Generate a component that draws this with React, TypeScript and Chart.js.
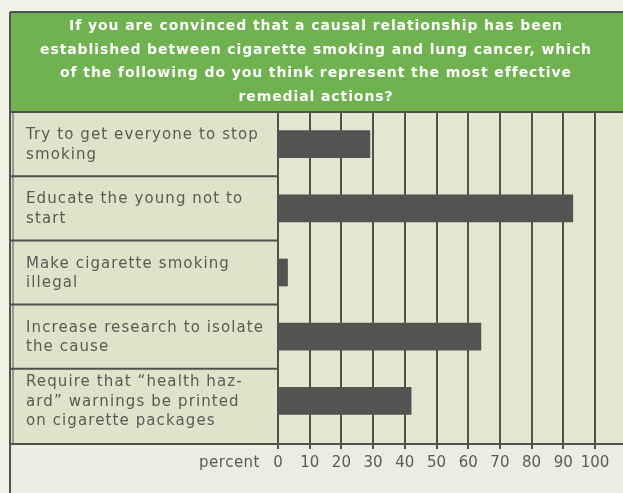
import { useEffect, useRef } from "react";
import { Chart, registerables } from "chart.js";
Chart.register(...registerables);

const titleLines = [
  "If you are convinced that a causal relationship has been",
  "established between cigarette smoking and lung cancer, which",
  "of the following do you think represent the most effective",
  "remedial actions?",
];
const categories: string[][] = [
  ["Try to get everyone to stop", "smoking"],
  ["Educate the young not to", "start"],
  ["Make cigarette smoking", "illegal"],
  ["Increase research to isolate", "the cause"],
  ["Require that \u201Chealth haz-", "ard\u201D warnings be printed", "on cigarette packages"],
];
const values = [29, 93, 3, 64, 42];
const axisUnit = "percent";
const xMin = 0;
const xMax = 100;
const xStep = 10;

const W = 623;
const H = 493;
const FRAME_L = 10;
const FRAME_T = 12;
const LINE = "#50534d";
const TEXT = "#5a5b55";
const GREEN = "#6fb24f";

const framePlugin = {
  id: "framePlugin",
  beforeDraw(chart: any) {
    const { ctx, chartArea } = chart;
    const axisY = chartArea.bottom + 11;
    ctx.save();
    ctx.fillStyle = "#f1f1e6";
    ctx.fillRect(0, 0, W, H);
    ctx.fillStyle = "#dee3c9";
    ctx.fillRect(FRAME_L, chartArea.top, W - FRAME_L, axisY - chartArea.top);
    ctx.fillStyle = "#e2e7d0";
    ctx.fillRect(chartArea.left, chartArea.top, W - chartArea.left, axisY - chartArea.top);
    ctx.fillStyle = "#ecede2";
    ctx.fillRect(FRAME_L, axisY, W - FRAME_L, H - axisY);
    ctx.fillStyle = GREEN;
    ctx.fillRect(FRAME_L, FRAME_T, W - FRAME_L, chartArea.top - FRAME_T);
    ctx.fillStyle = "#ffffff";
    ctx.font = "bold 14px 'DejaVu Sans'";
    (ctx as any).letterSpacing = "0.9px";
    ctx.textAlign = "center";
    ctx.textBaseline = "middle";
    const lh = 23.5;
    titleLines.forEach((t, i) => {
      ctx.fillText(t, 316, 26.5 + i * lh);
    });
    ctx.restore();
  },
  afterDraw(chart: any) {
    const { ctx, chartArea, scales } = chart;
    const ys = scales.y;
    const xs = scales.x;
    const axisY = chartArea.bottom + 11;
    ctx.save();
    ctx.strokeStyle = LINE;
    ctx.lineWidth = 2;
    ctx.beginPath();
    ctx.moveTo(FRAME_L, FRAME_T);
    ctx.lineTo(W, FRAME_T);
    ctx.moveTo(FRAME_L, FRAME_T);
    ctx.lineTo(FRAME_L, H);
    ctx.moveTo(FRAME_L, chartArea.top);
    ctx.lineTo(W, chartArea.top);
    ctx.moveTo(FRAME_L, axisY);
    ctx.lineTo(W, axisY);
    for (let i = 0; i < categories.length - 1; i++) {
      const y = (ys.getPixelForValue(i) + ys.getPixelForValue(i + 1)) / 2;
      ctx.moveTo(FRAME_L, y);
      ctx.lineTo(chartArea.left, y);
    }
    ctx.stroke();
    ctx.lineWidth = 1;
    ctx.beginPath();
    ctx.moveTo(FRAME_L + 3, chartArea.top);
    ctx.lineTo(FRAME_L + 3, axisY);
    ctx.stroke();

    ctx.fillStyle = TEXT;
    ctx.font = "15px 'DejaVu Sans'";
    (ctx as any).letterSpacing = "1.1px";
    ctx.textAlign = "left";
    ctx.textBaseline = "middle";
    const lh = 19.5;
    categories.forEach((lines, i) => {
      const c = ys.getPixelForValue(i);
      const y0 = c - ((lines.length - 1) * lh) / 2 + 1;
      lines.forEach((t, j) => ctx.fillText(t, FRAME_L + 16, y0 + j * lh));
    });

    ctx.font = "15px 'DejaVu Sans'";
    (ctx as any).letterSpacing = "0.5px";
    ctx.textAlign = "right";
    ctx.fillText(axisUnit, xs.getPixelForValue(xMin) - 18, xs.top + 30);
    ctx.restore();
  },
};

export default function App() {
  const ref = useRef<HTMLCanvasElement | null>(null);
  useEffect(() => {
    if (!ref.current) return;
    const chart = new Chart(ref.current, {
      type: "bar",
      data: {
        labels: categories.map((c) => c.join(" ")),
        datasets: [
          {
            data: values,
            backgroundColor: "#535451",
            borderWidth: 0,
            barThickness: 27,
          },
        ],
      },
      options: {
        indexAxis: "y",
        responsive: false,
        animation: false,
        devicePixelRatio: 1,
        layout: { padding: { top: 112, left: 278, right: 28, bottom: 0 } },
        plugins: {
          legend: { display: false },
          tooltip: { enabled: false },
          title: { display: false },
        },
        scales: {
          y: {
            type: "category",
            display: false,
            grid: { display: false },
          },
          x: {
            type: "linear",
            min: xMin,
            max: xMax,
            afterFit: (s: any) => {
              s.height = 60;
            },
            border: { display: false },
            grid: {
              color: LINE,
              lineWidth: 2,
              tickLength: 16,
              drawOnChartArea: true,
              drawTicks: true,
            },
            ticks: {
              stepSize: xStep,
              padding: 5,
              color: TEXT,
              font: { family: "'DejaVu Sans'", size: 15 },
              maxRotation: 0,
            },
          },
        },
      },
      plugins: [framePlugin],
    });
    return () => chart.destroy();
  }, []);
  return (
    <div style={{ position: "absolute", left: 0, top: 0, width: W, height: H }}>
      <canvas ref={ref} width={W} height={H} style={{ display: "block" }} />
    </div>
  );
}
